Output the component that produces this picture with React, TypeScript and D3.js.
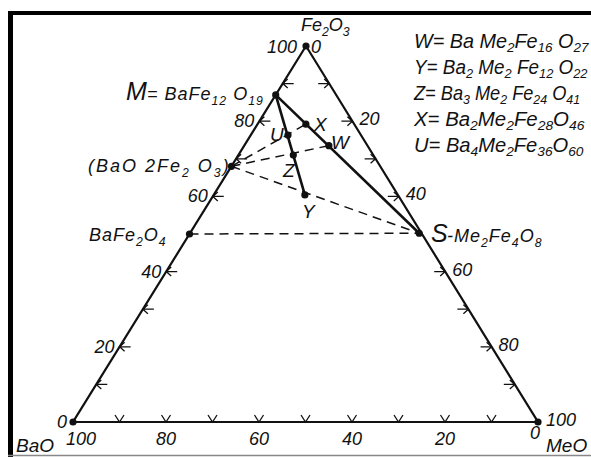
import React, { useLayoutEffect, useRef, useState } from "react";
import * as d3 from "d3";

// Ternary data (mol %): Fe2O3 and MeO; BaO = 100 - Fe2O3 - MeO
const phaseKeys = ["M", "B2", "B1", "S", "W", "Y", "Z", "X", "U"];
const phaseFe2O3 = [87, 68, 50, 50.2, 73.5, 60.4, 71, 79.2, 76.3];
const phaseMeO = [0, 0, 0, 49.3, 18.2, 19.6, 11.8, 10.4, 8];

const solidLinks = [["M", "S"], ["M", "Y"]];
const dashedLinks = [["B2", "X"], ["B2", "W"], ["B2", "S"], ["B1", "S"]];

const tickValues = [10, 20, 30, 40, 50, 60, 70, 80, 90];
const leftTickSkip = [50];
const rightTickSkip = [50];
const axisLabelValues = [0, 20, 40, 60, 80, 100];

const legendLines = [
  "W= Ba Me_{2}Fe_{16} O_{27}",
  "Y= Ba_{2} Me_{2} Fe_{12} O_{22}",
  "Z= Ba_{3} Me_{2} Fe_{24} O_{41}",
  "X= Ba_{2}Me_{2}Fe_{28}O_{46}",
  "U= Ba_{4}Me_{2}Fe_{36}O_{60}",
];
const legendWidths = [175, 174, 167, 172, 170];

const FONT = "'Liberation Sans', Arial, sans-serif";

function Rich({ text, x, y, size, anchor = "start", ls = 0, shift = 0.3 }: any) {
  const parts: { t: string; sub: boolean }[] = [];
  const re = /_\{([^}]*)\}/g;
  let last = 0;
  let m: RegExpExecArray | null;
  while ((m = re.exec(text))) {
    if (m.index > last) parts.push({ t: text.slice(last, m.index), sub: false });
    parts.push({ t: m[1], sub: true });
    last = m.index + m[0].length;
  }
  if (last < text.length) parts.push({ t: text.slice(last), sub: false });
  let shifted = false;
  const sh = size * shift;
  return (
    <text x={x} y={y} fontSize={size} fontFamily={FONT} fontStyle="italic" textAnchor={anchor} letterSpacing={ls} fill="#111" style={{ whiteSpace: "pre" }}>
      {parts.map((p, i) => {
        let dy = 0;
        if (p.sub && !shifted) { dy = sh; shifted = true; }
        else if (!p.sub && shifted) { dy = -sh; shifted = false; }
        return (
          <tspan key={i} dy={dy} fontSize={p.sub ? size * 0.68 : size}>{p.t}</tspan>
        );
      })}
    </text>
  );
}

function FitLine({ text, x, y, size, width }: any) {
  const ref = useRef<SVGGElement>(null);
  const [sx, setSx] = useState(1);
  useLayoutEffect(() => {
    if (ref.current) {
      const w = ref.current.getBBox().width;
      if (w > 0) setSx(width / w);
    }
  }, [text, width]);
  return (
    <g transform={`translate(${x},${y}) scale(${sx},1)`}>
      <g ref={ref}>
        <Rich text={text} x={0} y={0} size={size} shift={0.22} />
      </g>
    </g>
  );
}

export default function App() {
  const W = 591, H = 457;
  const base = { xL: 73, xR: 538, y: 422 };
  const top = { x: 306, y: 46 };
  const fy = d3.scaleLinear().domain([0, 100]).range([base.y, top.y]);
  const fx = d3.scaleLinear().domain([0, 100]).range([0, top.x - base.xL]);
  const mx = d3.scaleLinear().domain([0, 100]).range([0, base.xR - base.xL]);
  const proj = (fe: number, me: number): [number, number] => [base.xL + fx(fe) + mx(me), fy(fe)];

  const pts: Record<string, [number, number]> = {};
  phaseKeys.forEach((k, i) => (pts[k] = proj(phaseFe2O3[i], phaseMeO[i])));

  const A = proj(0, 0), B = proj(0, 100), C = proj(100, 0);
  const line = d3.line();

  const ticks: any[] = [];
  tickValues.forEach((v) => {
    if (!leftTickSkip.includes(v)) {
      const [x, y] = proj(v, 0);
      ticks.push(<path key={"l" + v} d={`M${x + 11},${y}L${x},${y}M${x + 5},${y - 4.5}L${x},${y}L${x + 5},${y + 4.5}`} stroke="#111" strokeWidth={1.3} fill="none" />);
    }
    if (!rightTickSkip.includes(v)) {
      const [x, y] = proj(100 - v, v);
      ticks.push(<path key={"r" + v} d={`M${x - 11},${y}L${x},${y}M${x - 5},${y - 4.5}L${x},${y}L${x - 5},${y + 4.5}`} stroke="#111" strokeWidth={1.3} fill="none" />);
    }
    const [bx, by] = proj(0, v);
    ticks.push(<path key={"b" + v} d={`M${bx - 4.5},${by - 7}L${bx},${by}L${bx + 4.5},${by - 7}`} stroke="#111" strokeWidth={1.3} fill="none" />);
  });

  return (
    <svg width={W} height={H} style={{ position: "absolute", left: 0, top: 0, background: "#fff" }}>
      <rect x={0} y={0} width={W} height={H} fill="#fff" />
      {/* frame */}
      <rect x={8} y={11} width={W - 8} height={4} fill="#000" />
      <rect x={8} y={11} width={5} height={H - 11} fill="#000" />
      <line x1={8} x2={W} y1={455.5} y2={455.5} stroke="#888" strokeWidth={1.5} />

      {/* triangle */}
      <path d={line([A, B, C, A]) + "Z"} stroke="#111" strokeWidth={2.2} fill="none" strokeLinejoin="miter" />
      {ticks}

      {/* dashed tie lines */}
      {dashedLinks.map(([a, b], i) => (
        <path key={"d" + i} d={line([pts[a], pts[b]])!} stroke="#111" strokeWidth={1.5} strokeDasharray="9 6" fill="none" />
      ))}
      {/* solid tie lines */}
      {solidLinks.map(([a, b], i) => (
        <path key={"s" + i} d={line([pts[a], pts[b]])!} stroke="#111" strokeWidth={2.6} fill="none" />
      ))}
      {phaseKeys.map((k) => (
        <circle key={k} cx={pts[k][0]} cy={pts[k][1]} r={3.6} fill="#111" />
      ))}
      {[A, B, C].map((p, i) => (
        <circle key={"v" + i} cx={p[0]} cy={p[1]} r={3.6} fill="#111" />
      ))}

      {/* axis labels left edge (Fe2O3) */}
      {axisLabelValues.filter((v) => v !== 100 && v !== 0).map((v) => {
        const [x, y] = proj(v, 0);
        return <Rich key={"la" + v} text={String(v)} x={x - 5} y={y + 6} size={18} anchor="end" />;
      })}
      <Rich text="100" x={top.x - 9} y={top.y + 7} size={18} anchor="end" />
      <Rich text="0" x={A[0] - 6} y={A[1] + 6} size={18} anchor="end" />
      {/* right edge (MeO) */}
      {axisLabelValues.filter((v) => v !== 100 && v !== 0).map((v) => {
        const [x, y] = proj(100 - v, v);
        return <Rich key={"ra" + v} text={String(v)} x={x + 7} y={y + 4} size={18} />;
      })}
      <Rich text="0" x={top.x + 5} y={top.y + 7} size={18} />
      <Rich text="100" x={B[0] + 8} y={B[1] + 4} size={18} />
      {/* bottom (BaO) */}
      {axisLabelValues.map((v) => {
        const [x, y] = proj(0, 100 - v);
        const dx = v === 100 ? 8 : v === 0 ? -3 : 0;
        return <Rich key={"ba" + v} text={String(v)} x={x + dx} y={y + (v === 0 ? 17 : 23)} size={18} anchor="middle" />;
      })}

      {/* corner names */}
      <Rich text="Fe_{2}O_{3}" x={301} y={31} size={18} />
      <Rich text="BaO" x={16} y={452} size={19} />
      <Rich text="MeO" x={546} y={452} size={19} />

      {/* phase labels */}
      <Rich text="M" x={126} y={100} size={25} />
      <Rich text="= BaFe_{12} O_{19}" x={147} y={100} size={18} ls={1} />
      <Rich text="(BaO 2Fe_{2} O_{3})" x={88} y={172} size={18} ls={2} />
      <Rich text="BaFe_{2}O_{4}" x={89} y={241} size={18} ls={1} />
      <Rich text="S" x={431} y={242} size={25} />
      <Rich text="-Me_{2}Fe_{4}O_{8}" x={447} y={242} size={18} ls={1} />
      <Rich text="U" x={270} y={141} size={19} />
      <Rich text="X" x={314} y={131} size={19} />
      <Rich text="W" x={331} y={149} size={19} />
      <Rich text="Z" x={283} y={177} size={19} />
      <Rich text="Y" x={302} y={218} size={19} />

      {/* legend */}
      {legendLines.map((t, i) => (
        <FitLine key={"lg" + i} text={t} x={414} y={48 + i * 26} size={20} width={legendWidths[i]} />
      ))}
    </svg>
  );
}
